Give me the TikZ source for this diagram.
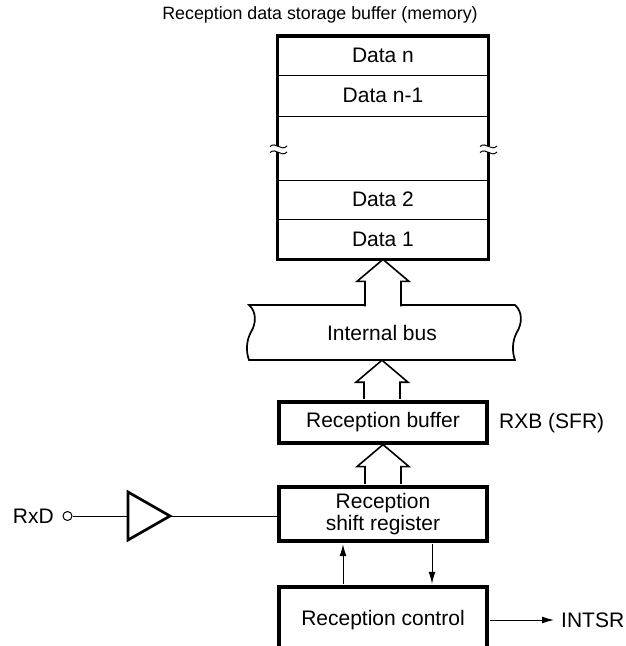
\documentclass[tikz,border=0pt]{standalone}
\usepackage{fontspec}
\setmainfont{Liberation Sans}
\usetikzlibrary{arrows.meta,calc}
\newcommand\blockup[3]{%
 \draw[blk] let \p1=(#1), \p2=(#2) in
  (\x2-18pt,\y1+#3) -- (\x2-18pt,\y2-22pt) -- (\x2-26pt,\y2-22pt) -- (\x2,\y2)
  -- (\x2+26pt,\y2-22pt) -- (\x2+18pt,\y2-22pt) -- (\x2+18pt,\y1+#3);}
\begin{document}
\begin{tikzpicture}[x=1pt,y=-1pt,
  txt/.style={font=\fontsize{21}{21.5}\selectfont, inner sep=0pt},
  rowbox/.style={txt, minimum width=210pt, anchor=north},
  boldbox/.style={draw, line width=3.2pt, txt, minimum width=208pt},
  thinline/.style={line width=1pt},
  sig/.style={line width=1pt, -{Latex[length=12pt,width=7pt]}},
  blk/.style={line width=1.6pt, fill=white, line join=miter}]
\clip (0,0) rectangle (626,646);
\fill[white] (0,0) rectangle (626,646);

% title
\node[font=\fontsize{17.8}{21}\selectfont, inner sep=0pt] (title) at (320,15) {Reception data storage buffer (memory)};

% memory rows
\node[rowbox, minimum height=39pt] (dn) at (383,36) {Data n};
\node[rowbox, minimum height=41pt] (dn1) at (383,75) {Data n-1};
\node[rowbox, minimum height=64pt] (gap) at (383,116) {};
\node[rowbox, minimum height=39pt] (d2) at (383,180) {Data 2};
\node[rowbox, minimum height=40pt] (d1) at (383,219) {Data 1};
\draw[thinline] (dn.south west) -- (dn.south east);
\draw[thinline] (dn1.south west) -- (dn1.south east);
\draw[thinline] (gap.south west) -- (gap.south east);
\draw[thinline] (d2.south west) -- (d2.south east);
\draw[line width=3.2pt] (dn.north west) rectangle (d1.south east);
% break marks
\fill[white] (272,146) rectangle (285,151.5);
\fill[white] (482,146) rectangle (495,151.5);
\foreach \bx in {270,480}{
  \draw[thinline] (\bx,146.5) .. controls (\bx+6,141) and (\bx+11,152) .. (\bx+17,146);
  \draw[thinline] (\bx,152.5) .. controls (\bx+6,147) and (\bx+11,158) .. (\bx+17,152);
}

% internal bus
\node[txt, minimum width=266pt, minimum height=55pt] (bus) at (382,332.5) {Internal bus};
\draw[line width=1.7pt] (249,305) -- (515,305)
  .. controls (523,312) and (522,324) .. (517,332)
  .. controls (512,341) and (512,352) .. (515,360) -- (249,360)
  .. controls (246,352) and (246,341) .. (251,332)
  .. controls (256,324) and (257,312) .. (249,305) -- cycle;

% boxes
\node[boldbox, minimum height=41pt] (rb) at (383,422.5) {Reception buffer};
\node[txt, anchor=west] (rxb) at (499,423) {RXB (SFR)};
\node[boldbox, minimum height=54pt, align=center] (sr) at (383,514) {Reception\\shift register};
\node[boldbox, minimum height=66pt] (rc) at (383,620) {Reception control};

% block arrows
\blockup{bus.north}{d1.south}{-1.5pt}
\blockup{rb.north}{bus.south}{1.6pt}
\blockup{sr.north}{rb.south}{1.6pt}

% RxD input
\node[txt, anchor=east] (rxd) at (54,516) {RxD};
\node[draw, circle, thinline, minimum size=9pt, inner sep=0pt] (pin) at (67.5,516) {};
\coordinate (ampin) at (128,516);
\coordinate (ampout) at (170,516);
\draw[line width=2.7pt, line join=miter] (128,492) -- (ampout) -- (128,540) -- cycle;
\draw[thinline] (pin.east) -- (ampin);
\draw[thinline] (ampout) -- (sr.west |- ampout);

% control signals
\draw[sig, shorten >=1.6pt, shorten <=1.6pt] ([xshift=-40pt]rc.north) -- ([xshift=-40pt]sr.south);
\draw[sig, shorten >=1.6pt, shorten <=1.6pt] ([xshift=49pt]sr.south) -- ([xshift=49pt]rc.north);
\node[txt, anchor=west] (intsr) at (561,620) {INTSR};
\draw[sig, shorten <=1.6pt, shorten >=7pt] (rc.east) -- (intsr.west);
\end{tikzpicture}
\end{document}
